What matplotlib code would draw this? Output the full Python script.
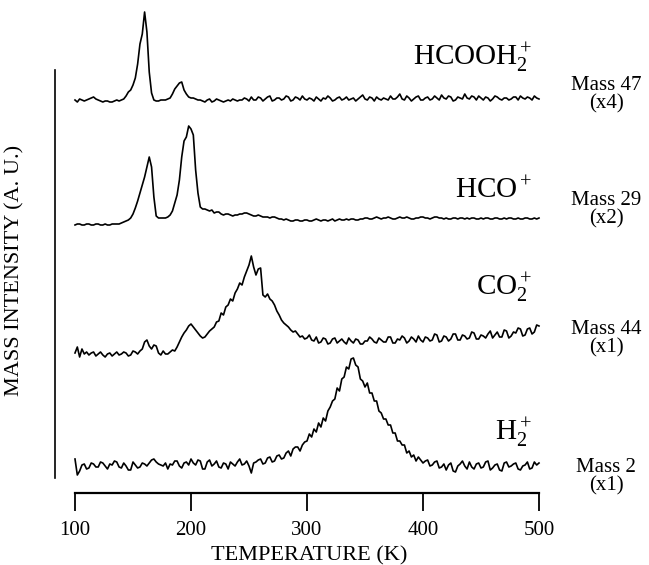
import matplotlib
matplotlib.use("Agg")
import matplotlib.pyplot as plt
import numpy as np

plt.rcParams["font.family"] = ["Liberation Serif", "DejaVu Serif"]
plt.rcParams["mathtext.fontset"] = "custom"
plt.rcParams["mathtext.rm"] = "Liberation Serif"
plt.rcParams["mathtext.it"] = "Liberation Serif:italic"

# temperature grid (K), one reading every 2 K
temps = np.arange(100, 501, 2)

# signals above each trace's own baseline (a.u.), one row = 20 K
hcooh = [2, 0, 3, 2, 1, 2, 3, 4, 5, 3,
         2, 1, 0, 1, 1, 0, 0, 1, 2, 1,
         2, 3, 6, 10, 12, 17, 24, 38, 58, 68,
         90, 70, 30, 9, 2, 1, 1, 2, 2, 2,
         3, 4, 8, 13, 16, 19, 20, 12, 8, 5,
         4, 4, 3, 2, 2, 1, 0, 2, 3, 0,
         1, 3, 2, 1, 0, 1, 2, 1, 3, 2,
         1, 2, 2, 4, 3, 1, 5, 2, 2, 5,
         4, 1, 3, 5, 6, 1, 2, 4, 4, 2,
         3, 6, 5, 1, 2, 5, 4, 2, 6, 3,
         2, 4, 3, 1, 5, 3, 1, 4, 3, 6,
         4, 1, 2, 4, 5, 2, 3, 5, 2, 3,
         4, 1, 3, 5, 7, 3, 2, 5, 4, 1,
         5, 3, 2, 4, 3, 2, 6, 3, 3, 5,
         8, 3, 2, 6, 4, 1, 3, 5, 6, 2,
         2, 4, 5, 2, 3, 6, 4, 2, 7, 4,
         3, 6, 5, 1, 2, 5, 4, 3, 8, 4,
         3, 6, 5, 2, 6, 4, 2, 5, 4, 1,
         3, 6, 5, 3, 2, 4, 4, 2, 3, 5,
         5, 2, 6, 4, 3, 5, 4, 2, 6, 4,
         3]
hco = [0, 1, 1, 0, 0, 1, 1, 0, 0, 1,
       1, 0, 0, 1, 0, 0, 1, 1, 1, 1,
       2, 3, 4, 5, 7, 11, 17, 24, 32, 40,
       48, 58, 68, 58, 28, 9, 7, 7, 7, 7,
       8, 10, 14, 22, 30, 45, 68, 84, 88, 99,
       96, 90, 55, 32, 18, 16, 16, 15, 14, 15,
       12, 13, 13, 11, 10, 11, 11, 10, 9, 10,
       10, 11, 11, 12, 12, 11, 10, 9, 9, 10,
       9, 8, 8, 8, 7, 8, 8, 7, 6, 6,
       5, 6, 5, 4, 4, 5, 5, 4, 4, 5,
       5, 4, 4, 5, 6, 5, 4, 5, 5, 4,
       5, 6, 4, 5, 6, 5, 5, 6, 5, 6,
       6, 5, 5, 6, 6, 7, 7, 6, 6, 7,
       8, 7, 6, 7, 7, 8, 7, 6, 6, 7,
       8, 7, 7, 8, 7, 6, 6, 7, 7, 8,
       8, 7, 7, 6, 7, 8, 8, 7, 7, 6,
       7, 6, 6, 7, 7, 6, 7, 7, 6, 7,
       6, 7, 7, 6, 6, 7, 6, 7, 7, 6,
       6, 7, 7, 6, 6, 7, 6, 7, 7, 6,
       6, 7, 6, 6, 7, 7, 6, 6, 7, 6,
       7]
co2 = [2, 8, -2, 6, 1, 3, 0, 2, 3, -1,
       1, 3, 0, -2, 1, 2, -1, 1, 3, 0,
       1, 3, 2, -1, 0, 4, 3, 1, 4, 6,
       13, 15, 9, 6, 10, 9, 2, 0, 4, 1,
       1, 3, 5, 4, 8, 13, 18, 22, 25, 29,
       31, 28, 25, 22, 19, 17, 18, 21, 24, 26,
       28, 33, 34, 42, 40, 48, 50, 56, 54, 62,
       66, 72, 70, 78, 84, 90, 99, 88, 80, 86,
       87, 60, 58, 61, 56, 54, 50, 44, 40, 35,
       32, 30, 28, 25, 23, 24, 21, 18, 19, 16,
       17, 20, 15, 14, 18, 12, 13, 17, 16, 11,
       12, 16, 17, 12, 14, 16, 13, 11, 17, 14,
       12, 16, 15, 11, 11, 14, 14, 18, 16, 13,
       12, 17, 15, 13, 13, 18, 18, 12, 12, 16,
       15, 19, 17, 12, 14, 18, 16, 13, 19, 15,
       13, 18, 17, 14, 15, 21, 20, 13, 14, 19,
       18, 14, 16, 21, 21, 15, 15, 20, 19, 16,
       17, 23, 22, 16, 16, 20, 19, 17, 21, 24,
       17, 20, 23, 18, 18, 25, 24, 17, 19, 23,
       22, 27, 26, 19, 20, 26, 27, 21, 23, 30,
       29]
h2 = [8, -8, -4, 2, 3, -2, -1, 4, 3, 0,
      0, 5, 4, 1, -2, 3, 2, 6, 5, 0,
      -1, 4, 1, -3, -3, 5, 2, -1, 0, 4,
      3, 1, 4, 7, 8, 5, 3, 2, 1, 4,
      -2, 3, 2, 6, 6, 1, -1, 4, 5, 2,
      8, 4, 2, 7, 6, -2, -2, 5, 7, 1,
      3, 6, 0, -1, 4, 3, -2, 5, 3, 1,
      5, 8, 2, 3, 6, 1, -6, 4, 5, 7,
      8, 3, 4, 9, 10, 5, 6, 11, 12, 8,
      9, 14, 16, 11, 18, 20, 20, 16, 22, 25,
      26, 33, 30, 38, 35, 44, 40, 49, 46, 56,
      60, 66, 68, 79, 76, 88, 90, 100, 98, 108,
      109, 102, 100, 88, 86, 80, 84, 74, 74, 66,
      66, 56, 54, 48, 48, 42, 42, 34, 34, 26,
      26, 22, 22, 14, 16, 10, 12, 6, 10, 7,
      4, 6, 7, 1, 2, 5, 6, -1, 0, 3,
      -3, 2, 4, -4, -5, 1, 3, 6, 1, -2,
      5, 0, -2, 3, 4, -1, 0, 5, 6, -3,
      -1, 2, 3, -3, -4, 4, 5, 0, 1, 3,
      4, -2, -3, 1, 2, 5, -2, -1, 5, 2,
      4]

signals = [hcooh, hco, co2, h2]
offsets = [391, 268, 138, 26]

species = ["HCOOH$_2^+$", "HCO$^+$", "CO$_2^+$", "H$_2^+$"]
masses = ["Mass 47\n(x4)", "Mass 29\n(x2)", "Mass 44\n(x1)", "Mass 2\n(x1)"]

W, H = 649, 565
fig = plt.figure(figsize=(W / 100, H / 100), dpi=100)
ax = fig.add_axes([55 / W, 1 - 493 / H, (539 - 55) / W, (493 - 5) / H])

for sig, off in zip(signals, offsets):
    ax.plot(temps, np.array(sig) + off, color="black", lw=1.2, clip_on=False)

ax.set_xlim(100 - 20 / 1.16, 500)
ax.set_ylim(0, 488)
ax.spines["top"].set_visible(False)
ax.spines["right"].set_visible(False)
ax.spines["bottom"].set_bounds(100, 500)
ax.spines["left"].set_bounds(493 - 478, 493 - 70)
ax.spines["bottom"].set_linewidth(1.6)
ax.spines["left"].set_linewidth(1.2)
ax.set_yticks([])
ax.set_xticks([100, 200, 300, 400, 500])
ax.tick_params(axis="x", direction="out", length=13, width=1.3, pad=7, labelsize=15)

# labels in figure pixels
def ftext(x, y, s, **kw):
    fig.text(x / W, 1 - y / H, s, **kw)

ftext(309, 556, "TEMPERATURE (K)", ha="center", va="center", fontsize=16)
ftext(15, 270, "MASS INTENSITY (A. U.)", ha="center", va="center", rotation=90, fontsize=16)

name_base = [65, 198, 295, 440]
mass_y = [95, 210, 339, 477]
for i in range(4):
    ftext(532, name_base[i], species[i], ha="right", va="baseline", fontsize=21)
    ftext(606, mass_y[i], masses[i], ha="center", va="center",
          multialignment="center", linespacing=0.95, fontsize=15)

fig.savefig("out.png", dpi=100)
